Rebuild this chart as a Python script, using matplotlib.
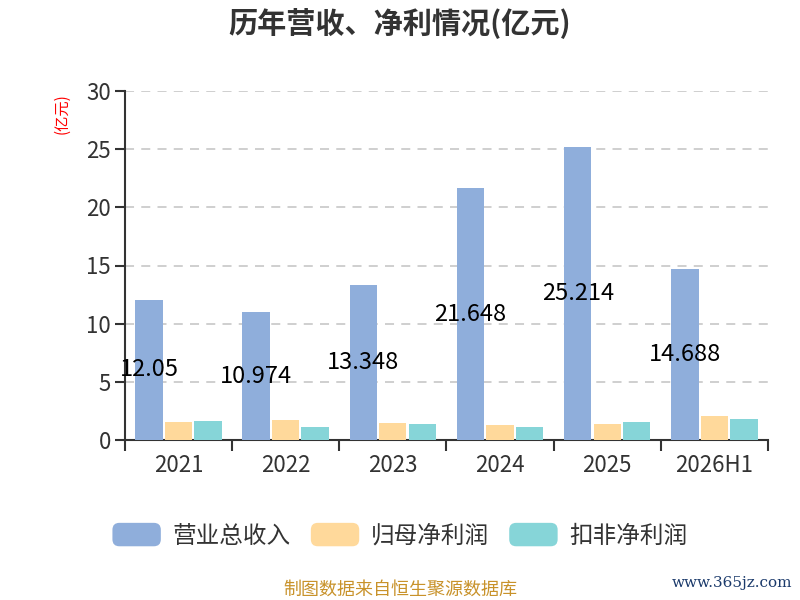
import matplotlib
matplotlib.use("Agg")
import matplotlib.pyplot as plt
import numpy as np
from matplotlib.patches import FancyBboxPatch, Patch
from matplotlib.legend_handler import HandlerPatch

plt.rcParams['font.family'] = ['Noto Sans CJK SC', 'DejaVu Sans']

categories = ["2021", "2022", "2023", "2024", "2025", "2026H1"]
revenue = [12.05, 10.974, 13.348, 21.648, 25.214, 14.688]
net_profit = [1.52, 1.72, 1.49, 1.31, 1.40, 2.03]
deducted_profit = [1.60, 1.14, 1.35, 1.09, 1.52, 1.78]
series_names = ["营业总收入", "归母净利润", "扣非净利润"]
colors = ["#8FAEDB", "#FFD99B", "#86D5D8"]
yticks = [0, 5, 10, 15, 20, 25, 30]

fig = plt.figure(figsize=(8, 6), dpi=100)
ax = fig.add_axes([0.156, 0.2667, 0.804, 0.5816])

x = np.arange(len(categories))
w = 0.255
gap = 0.02
offsets = [-(w + gap), 0, (w + gap)]
all_series = [revenue, net_profit, deducted_profit]
for s, off, c, name in zip(all_series, offsets, colors, series_names):
    ax.bar(x + off, s, width=w, color=c, label=name, zorder=3)

for xi, v in zip(x, revenue):
    ax.text(xi + offsets[0], v / 2, f"{v:g}", ha="center", va="center",
            fontsize=17, color="black", zorder=4)

ax.set_xlim(-0.5, len(categories) - 0.5)
ax.set_ylim(0, 30)
ax.set_yticks(yticks)
ax.set_yticklabels([str(t) for t in yticks], fontsize=16, color="#333333")
ax.set_xticks(x)
ax.set_xticklabels(categories, fontsize=16, color="#333333")
ax.tick_params(axis="x", length=0, pad=10)
ax.set_xticks(np.arange(-0.5, len(categories), 1), minor=True)
ax.tick_params(axis="x", which="minor", length=8, width=1.5, color="#333333")
ax.tick_params(axis="y", length=7, width=1.5, color="#333333", pad=3)

for sp in ["top", "right"]:
    ax.spines[sp].set_visible(False)
for sp in ["left", "bottom"]:
    ax.spines[sp].set_color("#333333")
    ax.spines[sp].set_linewidth(1.5)

ax.yaxis.grid(True, linestyle=(0, (5, 4)), color="#CCCCCC", linewidth=1.3, zorder=0)
ax.set_axisbelow(True)

fig.text(0.078, 0.81, "(亿元)", rotation=90, color="red", fontsize=11,
         ha="center", va="center")

fig.text(0.5, 0.962, "历年营收、净利情况(亿元)", ha="center", va="center",
         fontsize=21, fontweight="bold", color="#333333")


class RoundHandler(HandlerPatch):
    def create_artists(self, legend, orig_handle, xdescent, ydescent, width,
                       height, fontsize, trans):
        p = FancyBboxPatch((-xdescent, -ydescent), width, height,
                           boxstyle="round,pad=0,rounding_size=5",
                           facecolor=orig_handle.get_facecolor(),
                           edgecolor="none", transform=trans)
        return [p]


handles = [Patch(facecolor=c) for c in colors]
fig.legend(handles, series_names, loc="center", bbox_to_anchor=(0.5, 0.108),
           ncol=3, frameon=False, fontsize=17, handlelength=2.05,
           handleheight=1.15, handletextpad=0.5, columnspacing=0.85,
           labelcolor="#333333",
           handler_map={Patch: RoundHandler()})

fig.text(0.5, 0.018, "制图数据来自恒生聚源数据库", ha="center", va="center",
         fontsize=13, color="#C8922A")
fig.text(0.99, 0.028, "www.365jz.com", ha="right", va="center",
         fontsize=11, color="#1B3A6B", family="DejaVu Serif")

fig.savefig("out.png", dpi=100)
